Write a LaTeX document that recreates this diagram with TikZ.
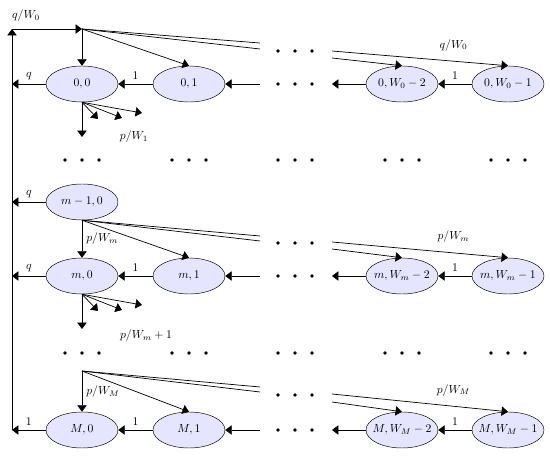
\documentclass[tikz,border=0pt]{standalone}
\usepackage{amsmath,amssymb}
\usetikzlibrary{arrows.meta,shapes.geometric}

\begin{document}
\begin{tikzpicture}[x=0.03cm, y=-0.03cm,
  state/.style={draw, ellipse, fill=blue!10, minimum width=2.16cm, minimum height=1.08cm, inner ysep=0pt, inner xsep=-8pt},
  arrow/.style={-{Triangle[width=8pt,length=5.5pt]}, semithick},
  line/.style={semithick},
  lbl/.style={font=\normalsize}
]
  \useasboundingbox (0,0) rectangle (550,456);

  % States
  \node[state] (s00) at (82,84) {$0,0$};
  \node[state] (s01) at (189,84) {$0,1$};
  \node[state] (s0a) at (402,84) {$0,W_0-2$};
  \node[state] (s0b) at (508,84) {$0,W_0-1$};
  \node[state] (sp0) at (82,202) {$m-1,0$};
  \node[state] (sm0) at (82,276) {$m,0$};
  \node[state] (sm1) at (189,276) {$m,1$};
  \node[state] (sma) at (402,276) {$m,W_m-2$};
  \node[state] (smb) at (508,276) {$m,W_m-1$};
  \node[state] (sM0) at (82,430) {$M,0$};
  \node[state] (sM1) at (189,430) {$M,1$};
  \node[state] (sMa) at (402,430) {$M,W_M-2$};
  \node[state] (sMb) at (508,430) {$M,W_M-1$};

  % Dots
  \foreach \y in {51,84,243,276,395,430}
    \foreach \d in {-17,0,17}
      \fill (295+\d,\y) circle (1.5pt);
  \foreach \x in {82,189,295,402,508}
    \foreach \y in {160,353}
      \foreach \d in {-17,0,17}
        \fill (\x+\d,\y) circle (1.5pt);

  % Loose ends
  \coordinate (top) at (12,29);
  \coordinate (src0) at (82,29);
  \coordinate (srcM) at (82,371);
  \coordinate (L0) at (12,84);
  \coordinate (Lp) at (12,202);
  \coordinate (Lm) at (12,276);
  \coordinate (LM) at (12,430);
  \coordinate (g0a) at (260,43);
  \coordinate (g0b) at (260,49);
  \coordinate (g0c) at (332,51);
  \coordinate (g0d) at (332,58);
  \coordinate (in0) at (260,84);
  \coordinate (out0) at (332,84);
  \coordinate (gma) at (260,236);
  \coordinate (gmb) at (260,241);
  \coordinate (gmc) at (332,242);
  \coordinate (gmd) at (332,249);
  \coordinate (inm) at (260,276);
  \coordinate (outm) at (332,276);
  \coordinate (gMa) at (260,387);
  \coordinate (gMb) at (260,392);
  \coordinate (gMc) at (332,394);
  \coordinate (gMd) at (332,402);
  \coordinate (inM) at (260,430);
  \coordinate (outM) at (332,430);
  \coordinate (d0) at (82,137);
  \coordinate (d0a) at (98,119);
  \coordinate (d0b) at (122,118);
  \coordinate (d0c) at (142,113);
  \coordinate (dm) at (82,329);
  \coordinate (dma) at (98,311);
  \coordinate (dmb) at (122,310);
  \coordinate (dmc) at (142,305);

  % Return line
  \draw[arrow] (LM) -- (top);
  \draw[arrow] (top) -- (src0) node[pos=0.2, above=3pt, lbl] {$q/W_0$};

  % Row 0
  \draw[arrow] (src0) -- (s00);
  \draw[arrow] (src0) -- (s01.north);
  \draw[line] (src0) -- (g0a);
  \draw[line] (src0) -- (g0b);
  \draw[arrow] (g0c) -- (s0b.north) node[pos=0.69, above=5pt, lbl] {$q/W_0$};
  \draw[arrow] (g0d) -- (s0a.north);
  \draw[arrow] (s00) -- (L0) node[midway, above, lbl] {$q$};
  \draw[arrow] (s01) -- (s00) node[midway, above, lbl] {$1$};
  \draw[arrow] (in0) -- (s01);
  \draw[arrow] (s0a) -- (out0);
  \draw[arrow] (s0b) -- (s0a) node[midway, above, lbl] {$1$};
  \draw[arrow] (s00.south) -- (d0);
  \draw[arrow] (s00.south) -- (d0a);
  \draw[arrow] (s00.south) -- (d0b);
  \draw[arrow] (s00.south) -- (d0c);
  \node[lbl] (l1) at (134,137) {$p/W_1$};

  % Row m
  \draw[arrow] (sp0) -- (Lp) node[midway, above, lbl] {$q$};
  \draw[arrow] (sp0) -- (sm0) node[midway, right, lbl] {$p/W_m$};
  \draw[arrow] (sp0.south) -- (sm1.north);
  \draw[line] (sp0.south) -- (gma);
  \draw[line] (sp0.south) -- (gmb);
  \draw[arrow] (gmc) -- (smb.north) node[pos=0.69, above=5pt, lbl] {$p/W_m$};
  \draw[arrow] (gmd) -- (sma.north);
  \draw[arrow] (sm0) -- (Lm) node[midway, above, lbl] {$q$};
  \draw[arrow] (sm1) -- (sm0) node[midway, above, lbl] {$1$};
  \draw[arrow] (inm) -- (sm1);
  \draw[arrow] (sma) -- (outm);
  \draw[arrow] (smb) -- (sma) node[midway, above, lbl] {$1$};
  \draw[arrow] (sm0.south) -- (dm);
  \draw[arrow] (sm0.south) -- (dma);
  \draw[arrow] (sm0.south) -- (dmb);
  \draw[arrow] (sm0.south) -- (dmc);
  \node[lbl] (l2) at (146,336) {$p/W_m+1$};

  % Row M
  \draw[arrow] (srcM) -- (sM0) node[midway, right, lbl] {$p/W_M$};
  \draw[arrow] (srcM) -- (sM1.north);
  \draw[line] (srcM) -- (gMa);
  \draw[line] (srcM) -- (gMb);
  \draw[arrow] (gMc) -- (sMb.north) node[pos=0.69, above=5pt, lbl] {$p/W_M$};
  \draw[arrow] (gMd) -- (sMa.north);
  \draw[arrow] (sM0) -- (LM) node[midway, above, lbl] {$1$};
  \draw[arrow] (sM1) -- (sM0) node[midway, above, lbl] {$1$};
  \draw[arrow] (inM) -- (sM1);
  \draw[arrow] (sMa) -- (outM);
  \draw[arrow] (sMb) -- (sMa) node[midway, above, lbl] {$1$};
\end{tikzpicture}
\end{document}
